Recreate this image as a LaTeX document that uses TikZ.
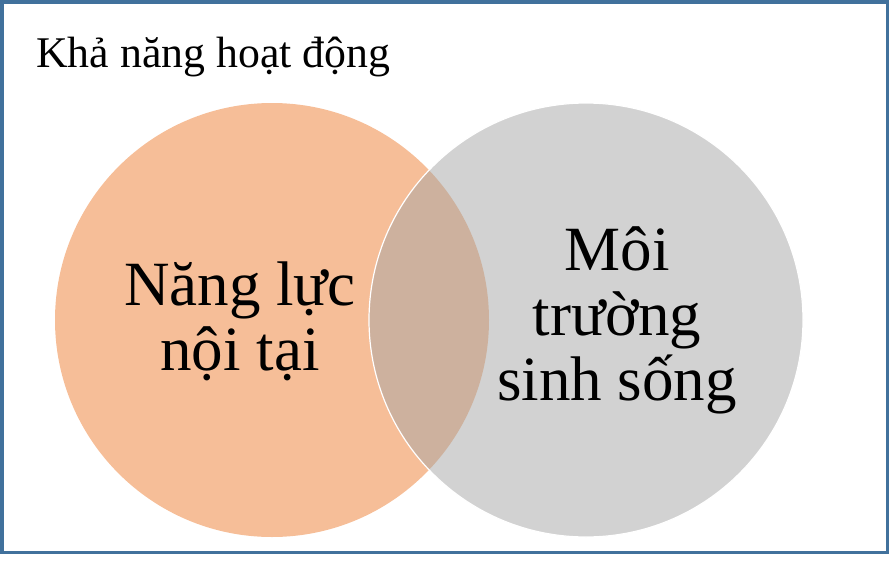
\documentclass[tikz,border=0pt]{standalone}
\usepackage{fontspec}
\setmainfont{Liberation Serif}
\definecolor{frameblue}{RGB}{65,113,156}
\definecolor{accorange}{RGB}{237,125,49}
\definecolor{accgray}{RGB}{165,165,165}
\begin{document}
\begin{tikzpicture}[x=1pt,y=-1pt,
  setcircle/.style={circle,minimum size=434pt,inner sep=0pt,fill opacity=0.5,text opacity=1},
  bigtext/.style={font=\fontsize{63}{65}\selectfont,align=center,inner sep=0pt}]
\useasboundingbox (0,0) rectangle (889,581);
\draw[frameblue,line width=3.5pt] (1.75,1.75) rectangle (887.25,552.25);
\node[setcircle,fill=accorange] (inner) at (272,320) {};
\node[setcircle,fill=accgray,draw=white,draw opacity=1,line width=1.2pt] (env) at (586,320) {};
\node[anchor=base west,inner sep=0pt,font=\fontsize{43.8}{50}\selectfont] (title) at (36,67) {Khả năng hoạt động};
\node[bigtext,anchor=base] (innertext) at (240,370) {Năng lực\\nội tại};
\node[bigtext,anchor=base] (envtext) at (617,400) {Môi\\trường\\sinh sống};
\end{tikzpicture}
\end{document}
